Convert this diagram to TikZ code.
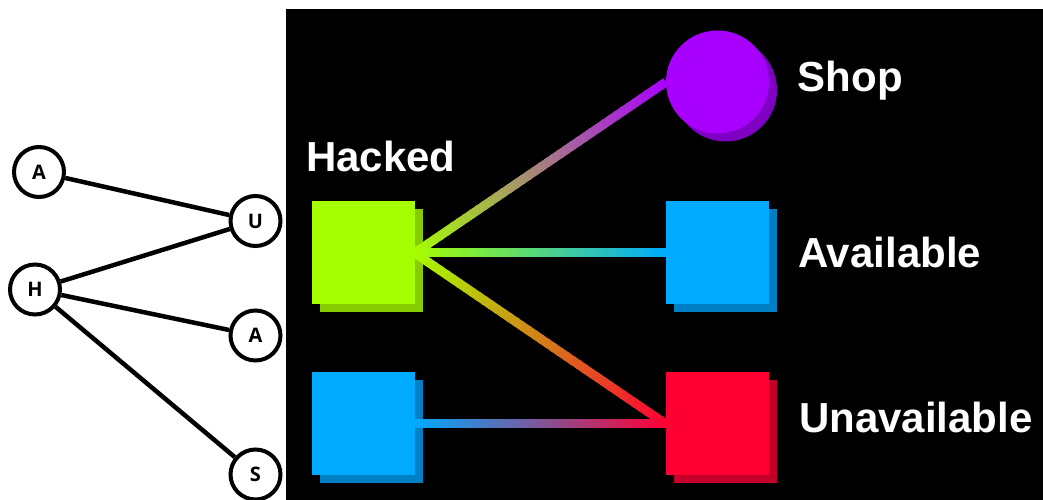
\documentclass[tikz,border=0pt]{standalone}
\usepackage{fontspec}
\usetikzlibrary{calc,shadows}
\newfontfamily\labfont{Liberation Sans}
\newfontfamily\vertfont{Open Sans}
\definecolor{hackgreen}{HTML}{A6FF00}
\definecolor{hackgreendark}{HTML}{86CC00}
\definecolor{availblue}{HTML}{00AAFF}
\definecolor{availbluedark}{HTML}{0080C4}
\definecolor{unavred}{HTML}{FF0033}
\definecolor{unavreddark}{HTML}{C4002A}
\definecolor{shoppurple}{HTML}{A800FF}
\definecolor{shoppurpledark}{HTML}{7F00C2}
\newcommand{\gradlink}[4]{%
  \foreach \i in {0,...,39}{%
    \pgfmathsetmacro{\ta}{\i/40}%
    \pgfmathsetmacro{\tb}{min((\i+1.3)/40,1)}%
    \pgfmathsetmacro{\pct}{100-(\i+0.5)*2.5}%
    \draw[link, color=#3!\pct!#4] ($(#1)!\ta!(#2)$) -- ($(#1)!\tb!(#2)$);
  }%
}
\begin{document}
\begin{tikzpicture}[x=1pt, y=1pt, node distance=171pt,
  vert/.style={draw, circle, line width=4pt, minimum size=50pt, inner sep=0pt, font=\vertfont\bfseries\fontsize{20}{20}\selectfont},
  box/.style={rectangle, fill=#1, minimum size=103pt, inner sep=0pt, drop shadow={shadow xshift=8pt, shadow yshift=-8pt, fill=#1dark, opacity=1}},
  lab/.style={text=white, anchor=base west, inner sep=0pt, font=\labfont\bfseries\fontsize{42}{42}\selectfont},
  link/.style={line width=9pt},
  tie/.style={line width=4.5pt}]
\useasboundingbox (0,0) rectangle (1043,500);
\fill[black] (286,0) rectangle (1043,491);

\node[vert] (ta) at (39,328) {A};
\node[vert] (th) at (35,210.5) {H};
\node[vert] (tu) at (255.5,279) {U};
\node[vert, below of=tu, node distance=114.5pt] (tv) {A};
\node[vert] (ts) at (255.5,25.5) {S};

\draw[tie] (ta) -- (tu);
\draw[tie] (th) -- (tu);
\draw[tie] (th) -- (tv);
\draw[tie] (th) -- (ts);

\node[box=hackgreen] (hacked) at (363,247) {};
\node[box=availblue, right of=hacked, node distance=354.5pt] (avail) {};
\node[box=shoppurple, circle, above of=avail] (shop) {};
\node[box=unavred, below of=avail] (unavail) {};
\node[box=availblue, below of=hacked] (other) {};

\node[lab] (hackedlab) at (306,328) {Hacked};
\node[lab] (shoplab) at (797.5,408) {Shop};
\node[lab] (availlab) at (798,232) {Available};
\node[lab] (unavlab) at (799,67) {Unavailable};

\gradlink{hacked.east}{shop.west}{hackgreen}{shoppurple}
\gradlink{hacked.east}{avail.west}{hackgreen}{availblue}
\gradlink{hacked.east}{unavail.west}{hackgreen}{unavred}
\gradlink{other.east}{unavail.west}{availblue}{unavred}
\end{tikzpicture}
\end{document}
